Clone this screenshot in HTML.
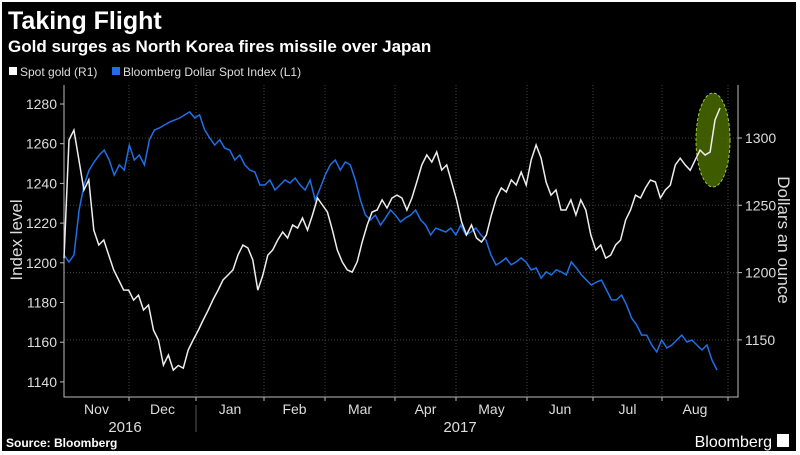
<!DOCTYPE html>
<html><head><meta charset="utf-8"><style>
html,body{margin:0;padding:0;background:#fff}
#wrap{position:absolute;left:2px;top:2px;width:794px;height:449px;background:#000;overflow:hidden}
svg{position:absolute;left:0;top:0}
text{font-family:"Liberation Sans",sans-serif}
</style></head><body>
<div id="wrap">
<svg id="chart" width="800" height="455" viewBox="2 2 800 455">
<text x="8" y="29" fill="#fff" font-size="25" font-weight="bold">Taking Flight</text>
<text x="8" y="52" fill="#fff" font-size="17" font-weight="bold">Gold surges as North Korea fires missile over Japan</text>
<rect x="9" y="67" width="8" height="8" fill="#fff"/>
<text x="20" y="76" fill="#ddd" font-size="12">Spot gold (R1)</text>
<rect x="112" y="67" width="8" height="8" fill="#1e6fe6"/>
<text x="123" y="76" fill="#ddd" font-size="12">Bloomberg Dollar Spot Index (L1)</text>
<g id="grid"></g><g id="axes"></g><g id="series"></g>
<text transform="translate(22,240) rotate(-90)" text-anchor="middle" fill="#ddd" font-size="17">Index level</text>
<text transform="translate(778,240) rotate(90)" text-anchor="middle" fill="#ddd" font-size="17">Dollars an ounce</text>
<text x="125" y="432" text-anchor="middle" fill="#ddd" font-size="15">2016</text>
<line x1="196" y1="405" x2="196" y2="432" stroke="#555"/>
<text x="460" y="432" text-anchor="middle" fill="#ddd" font-size="15">2017</text>
<text x="6" y="447" fill="#fff" font-size="12" font-weight="bold">Source: Bloomberg</text>
<text x="772" y="447" text-anchor="end" fill="#fff" font-size="16">Bloomberg</text>
<rect x="777" y="434" width="12" height="13" fill="#fff"/>
</svg>
</div>
<script>
const leftTicks=[1140,1160,1180,1200,1220,1240,1260,1280];
const rightTicks=[1150,1200,1250,1300];
const months=["Nov","Dec","Jan","Feb","Mar","Apr","May","Jun","Jul","Aug"];
const gold=[1210.8,1298.5,1305.9,1283.7,1261.4,1268.8,1231.6,1220.5,1224.2,1213.1,1201.9,1194.5,1187.1,1187,1179.6,1183.3,1172.2,1175.9,1157.3,1149.9,1131.3,1138.8,1127.6,1131,1129,1142.5,1150,1157,1164.8,1172,1180,1187,1194.5,1198.2,1202,1213,1220.5,1218.3,1209.4,1187,1198,1213,1216.8,1224.2,1230.2,1225.7,1235.4,1233.1,1240.6,1231.6,1242.8,1255.4,1250.2,1245,1231.6,1216.8,1207.9,1202,1200.4,1208,1222.7,1235.4,1245,1246.5,1254,1248,1255.4,1257.6,1255.4,1246.5,1255.4,1267.3,1280,1287.4,1282.2,1289.6,1276.2,1280,1267.3,1254,1237.6,1228,1235.4,1225.7,1222.7,1228,1242.8,1255.4,1262.9,1259.9,1268.8,1265.1,1274.7,1265,1283.7,1294.8,1285.1,1267.3,1257.6,1261.4,1246.5,1246.5,1254,1242.8,1254,1246.5,1228,1216.8,1220.5,1210.8,1213,1220.5,1224.2,1239,1246.5,1257.6,1255.4,1262.9,1268.8,1267.3,1255.4,1261.4,1265,1280,1285,1280,1276,1283.7,1291,1287.4,1289.6,1313.4,1322.3];
const dollar=[1203.9,1200.4,1204,1226.6,1239.2,1246.7,1250.8,1254.3,1256.8,1251.8,1244.2,1249.3,1246.7,1259.3,1251.8,1254.3,1249.3,1261.9,1266.9,1267.9,1269.4,1270.9,1271.9,1272.9,1274.5,1276,1273,1274.5,1267,1262.9,1259.3,1262,1257.8,1256.8,1251.8,1254.3,1249.3,1246.7,1245.7,1239.2,1239.2,1241.7,1236.7,1239.2,1241.7,1240.2,1242.7,1239.2,1236.7,1241.7,1231.6,1237.7,1244.2,1249.3,1251.8,1246.7,1250.8,1249.3,1241.7,1231.6,1224.1,1221.6,1224,1219,1222.6,1226.6,1224,1220.6,1222.6,1224,1226.6,1221.6,1219,1214,1217.5,1216.5,1215.5,1217.5,1214,1219,1214,1215.5,1217.5,1214,1211.5,1203.9,1198.9,1200.4,1202.4,1199,1200.4,1202.4,1200.4,1196.4,1197.4,1192.3,1195.4,1193.9,1196.4,1195.4,1193.9,1200.4,1197.4,1193.9,1191.3,1188.8,1190.3,1191.3,1186.3,1181.3,1181.3,1183.8,1178.7,1172.2,1168.7,1163.6,1163.6,1158.6,1155.1,1161.1,1157.1,1158.6,1161.1,1163.6,1160.1,1161.1,1158.6,1156.1,1158.6,1151,1146];
const NS="http://www.w3.org/2000/svg";
const X0=64,X1=738,Y0=85,Y1=397;
const yL=v=>104+(1280-v)/20*39.7;
const yR=v=>138+(1300-v)/50*67.3;
const xIdx=(i,n,end)=>X0+i/(n-1)*(end-X0);
const monthBounds=[129,196,264,325,395,456,527,593,662,728];
function mk(tag,attrs,parent){const e=document.createElementNS(NS,tag);for(const k in attrs)e.setAttribute(k,attrs[k]);parent.appendChild(e);return e;}
const grid=document.getElementById('grid'),axes=document.getElementById('axes'),series=document.getElementById('series');
monthBounds.forEach((x,i)=>{
 const l=mk('line',{x1:x,y1:Y0,x2:x,y2:Y1,stroke:'#444','stroke-dasharray':'1,2'},grid);
 
 
 const t=mk('line',{x1:x,y1:Y1,x2:x,y2:Y1+4,stroke:'#bbb'},axes);
 
 
});
months.forEach((m,i)=>{
 const prev=i===0?X0:monthBounds[i-1];
 const t=mk('text',{x:(prev+monthBounds[i])/2,y:414,'text-anchor':'middle',fill:'#ddd','font-size':'14'},axes);
 t.textContent=m;
 
 
});
rightTicks.forEach(v=>{
 const y=yR(v);
 const g=mk('line',{x1:X0,y1:y,x2:X1,y2:y,stroke:'#444','stroke-dasharray':'1,2'},grid);
 
 
 mk('line',{x1:X1,y1:y,x2:X1+4,y2:y,stroke:'#bbb'},axes);
 const t=mk('text',{x:X1+7,y:y+5,fill:'#ddd','font-size':'14'},axes);
 t.textContent=v;
 
 
});
leftTicks.forEach(v=>{
 const y=yL(v);
 mk('line',{x1:X0-4,y1:y,x2:X0,y2:y,stroke:'#bbb'},axes);
 const t=mk('text',{x:X0-7,y:y+5,'text-anchor':'end',fill:'#ddd','font-size':'14'},axes);
 t.textContent=v;
 
 
});
const ax=mk('path',{d:`M${X0},${Y0}V${Y1}H${X1}V${Y0}`,fill:'none',stroke:'#bbb'},axes);


const dl=mk('polyline',{points:dollar.map((v,i)=>xIdx(i,dollar.length,717).toFixed(1)+','+yL(v).toFixed(1)).join(' '),fill:'none',stroke:'#1e6fe6','stroke-width':'1.5'},series);


const el=mk('ellipse',{cx:713,cy:140,rx:17,ry:47,fill:'#4a6b00','fill-opacity':'0.85',stroke:'#9acd32','stroke-dasharray':'3,2'},series);


const gl=mk('polyline',{points:gold.map((v,i)=>xIdx(i,gold.length,720).toFixed(1)+','+yR(v).toFixed(1)).join(' '),fill:'none',stroke:'#eee','stroke-width':'1.5'},series);


</script>
</body></html>
